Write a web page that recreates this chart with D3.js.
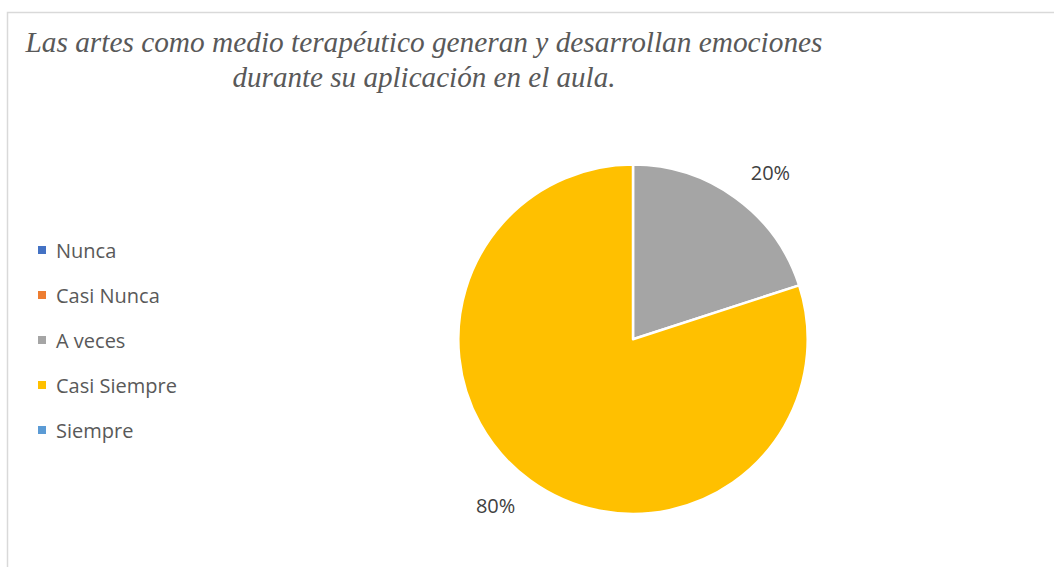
<!DOCTYPE html>
<html><head><meta charset="utf-8">
<script src="https://cdn.jsdelivr.net/npm/d3@7"></script>
<style>body{margin:0;background:#fff}svg{display:block}</style>
</head><body>
<svg id="c" width="1054" height="567"></svg>
<script>
const categories = ["Nunca", "Casi Nunca", "A veces", "Casi Siempre", "Siempre"];
const values = [0, 0, 20, 80, 0];
const colors = ["#4472C4", "#ED7D31", "#A5A5A5", "#FFC000", "#5B9BD5"];
const titleLines = ["Las artes como medio terapéutico generan y desarrollan emociones", "durante su aplicación en el aula."];

const svg = d3.select("#c");
svg.append("rect").attr("x", 7.5).attr("y", 12.5).attr("width", 1100).attr("height", 600)
  .attr("fill", "#fff").attr("stroke", "#d9d9d9").attr("stroke-width", 1.5);

// title
const tWidths = [797, 383];
svg.append("g").selectAll("text").data(titleLines).join("text")
  .style("font-family", "Liberation Serif")
  .style("font-style", "italic").style("font-size", "28.5px").attr("fill", "#595959")
  .attr("text-anchor", "middle")
  .attr("x", 424).attr("y", (d, i) => 52 + i * 35)
  .attr("textLength", (d, i) => tWidths[i]).attr("lengthAdjust", "spacingAndGlyphs")
  .text(d => d);

// pie
const cx = 633, cy = 339.3, r = 174.7;
const pie = d3.pie().sort(null).value(d => d.v);
const data = categories.map((c, i) => ({c, v: values[i], col: colors[i]}));
const arcs = pie(data);
const arc = d3.arc().innerRadius(0).outerRadius(r);
const g = svg.append("g").attr("transform", `translate(${cx},${cy})`);
g.selectAll("path").data(arcs.filter(a => a.data.v > 0)).join("path")
  .attr("d", arc).attr("fill", d => d.data.col)
  .attr("stroke", "#fff").attr("stroke-width", 2.5).attr("stroke-linejoin", "round");

// labels (outside end)
const lr = 216, shift = 3.5 * Math.PI / 180;
const total = d3.sum(values);
g.selectAll("text.lbl").data(arcs.filter(a => a.data.v > 0)).join("text")
  .attr("class", "lbl")
  .attr("transform", d => {
    const a = (d.startAngle + d.endAngle) / 2 + shift;
    return `translate(${lr * Math.sin(a)},${-lr * Math.cos(a)})`;
  })
  .attr("text-anchor", "middle").attr("dominant-baseline", "central")
  .style("font-family", "Open Sans").style("font-size", "20px")
  .attr("fill", "#404040")
  .text(d => Math.round(d.data.v / total * 100) + "%");

// legend
const ly = d3.scalePoint().domain(categories).range([250, 430]);
const items = svg.append("g").selectAll("g").data(data).join("g")
  .attr("transform", d => `translate(38,${ly(d.c)})`);
items.append("rect").attr("x", 0).attr("y", -4).attr("width", 8).attr("height", 8).attr("fill", d => d.col);
items.append("text").attr("x", 18).attr("y", 0).attr("dominant-baseline", "central")
  .style("font-family", "Open Sans").style("font-size", "20px")
  .attr("fill", "#595959").text(d => d.c);
</script>
</body></html>
